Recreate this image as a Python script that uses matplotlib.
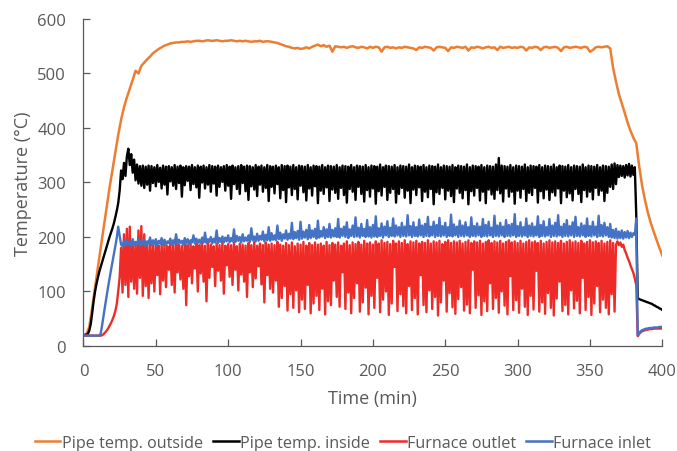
import numpy as np
import matplotlib
matplotlib.use("Agg")
import matplotlib.pyplot as plt

# ---------------- data ----------------
series_names = ["Pipe temp. outside", "Pipe temp. inside", "Furnace outlet", "Furnace inlet"]
series_colors = ["#ED7D31", "#000000", "#EE2B27", "#4472C4"]

# Pipe temp. outside, sampled every 2 min (0..400)
time_outside = np.arange(0, 401, 2)
pipe_outside = [
    20, 22, 35, 70, 108, 145, 182, 218, 254, 290,
    323, 355, 387, 415, 438, 456, 472, 488, 505, 500,
    514, 520, 526, 531, 537, 541, 545, 548, 551, 553,
    555, 556, 557, 557, 558, 558, 559, 558, 559, 560,
    560, 559, 560, 561, 560, 560, 561, 560, 559, 560,
    560, 561, 560, 559, 560, 559, 560, 559, 558, 559,
    559, 560, 558, 559, 559, 558, 557, 556, 554, 552,
    550, 549, 547, 546, 547, 545, 546, 548, 546, 549,
    551, 553, 550, 552, 549, 551, 540, 550, 549, 548,
    549, 547, 549, 550, 548, 547, 549, 548, 546, 549,
    547, 549, 548, 540, 548, 549, 547, 548, 546, 548,
    547, 549, 548, 547, 546, 543, 548, 547, 549, 548,
    547, 542, 548, 549, 548, 547, 541, 548, 547, 549,
    548, 547, 549, 542, 548, 547, 549, 548, 546, 548,
    549, 547, 548, 543, 549, 547, 548, 549, 547, 548,
    547, 549, 548, 542, 548, 547, 549, 548, 543, 548,
    549, 547, 548, 549, 547, 541, 548, 549, 547, 548,
    549, 548, 547, 549, 548, 540, 543, 548, 549, 548,
    549, 550, 546, 510, 485, 462, 445, 428, 410, 395,
    382, 372, 330, 295, 268, 245, 226, 210, 195, 180,
    166,
]

# the other three series, sampled every minute (0..400)
time_min = np.arange(0, 401, 1)

pipe_inside = [
    20, 20, 21, 22, 28, 40, 60, 82, 100, 114,
    126, 137, 146, 155, 164, 173, 182, 191, 200, 208,
    216, 225, 236, 248, 262, 285, 322, 306, 336, 312,
    348, 362, 332, 352, 318, 342, 304, 333, 298, 330,
    294, 331, 290, 329, 296, 331, 285, 330, 299, 328,
    293, 332, 301, 327, 289, 331, 296, 329, 278, 330,
    302, 328, 294, 332, 288, 329, 299, 331, 274, 328,
    295, 330, 303, 329, 286, 332, 297, 328, 291, 331,
    272, 329, 300, 331, 289, 328, 296, 332, 283, 330,
    298, 329, 276, 331, 292, 328, 301, 330, 285, 332,
    294, 329, 270, 331, 297, 328, 288, 330, 279, 332,
    299, 329, 284, 331, 268, 330, 293, 328, 287, 332,
    275, 329, 296, 331, 283, 328, 290, 332, 266, 330,
    292, 329, 280, 331, 297, 328, 271, 332, 286, 330,
    264, 331, 291, 329, 277, 332, 288, 328, 269, 331,
    294, 330, 282, 329, 267, 332, 289, 328, 276, 331,
    293, 330, 262, 329, 285, 332, 279, 328, 291, 331,
    266, 330, 287, 329, 281, 332, 270, 328, 290, 331,
    277, 330, 263, 329, 288, 332, 283, 328, 268, 331,
    292, 330, 279, 329, 265, 332, 286, 328, 274, 331,
    289, 330, 261, 329, 284, 333, 276, 328, 292, 331,
    268, 330, 281, 329, 288, 332, 263, 328, 279, 331,
    290, 330, 272, 329, 285, 333, 262, 328, 287, 331,
    277, 330, 291, 329, 266, 332, 283, 328, 273, 331,
    288, 330, 260, 329, 282, 333, 279, 328, 290, 331,
    269, 330, 285, 329, 275, 332, 264, 328, 289, 331,
    281, 330, 271, 329, 286, 333, 260, 328, 284, 331,
    276, 330, 290, 329, 267, 332, 283, 328, 262, 331,
    287, 330, 278, 329, 270, 333, 286, 345, 280, 331,
    265, 330, 289, 329, 274, 332, 283, 328, 261, 331,
    285, 330, 272, 329, 288, 333, 266, 328, 281, 331,
    277, 330, 290, 329, 263, 332, 284, 328, 271, 331,
    287, 330, 268, 329, 282, 333, 276, 328, 289, 331,
    262, 330, 285, 329, 273, 332, 280, 328, 267, 331,
    288, 330, 279, 329, 264, 333, 286, 328, 274, 331,
    283, 330, 269, 329, 290, 332, 277, 328, 285, 331,
    266, 330, 281, 329, 292, 333, 288, 335, 297, 332,
    310, 331, 312, 330, 309, 332, 313, 334, 311, 331,
    314, 328, 240, 88, 86, 85, 84, 83, 82, 81,
    80, 79, 78, 77, 75, 74, 72, 71, 69, 68,
    66,
]

furnace_outlet = [
    19, 19, 19, 19, 19, 19, 19, 19, 19, 19,
    19, 19, 19, 20, 22, 25, 28, 32, 37, 42,
    48, 55, 64, 77, 100, 126, 180, 98, 205, 112,
    215, 90, 219, 118, 192, 105, 188, 96, 212, 125,
    220, 92, 205, 110, 186, 88, 190, 115, 185, 100,
    188, 130, 184, 95, 190, 120, 186, 108, 183, 140,
    189, 112, 185, 98, 191, 135, 186, 122, 184, 105,
    188, 75, 185, 128, 190, 115, 183, 142, 187, 100,
    185, 133, 189, 118, 184, 82, 190, 125, 186, 145,
    183, 110, 188, 138, 185, 120, 191, 96, 184, 148,
    187, 127, 185, 112, 190, 140, 183, 102, 188, 131,
    186, 118, 184, 90, 189, 135, 185, 108, 191, 124,
    184, 146, 188, 113, 185, 80, 190, 130, 186, 105,
    188, 98, 185, 120, 191, 72, 186, 88, 184, 110,
    189, 65, 185, 95, 190, 70, 183, 102, 188, 62,
    186, 85, 191, 68, 184, 112, 189, 60, 185, 78,
    190, 92, 186, 66, 188, 105, 184, 58, 191, 82,
    185, 75, 189, 120, 186, 90, 190, 72, 184, 135,
    188, 68, 192, 98, 185, 60, 190, 88, 187, 115,
    191, 63, 186, 80, 193, 107, 188, 58, 190, 92,
    186, 70, 192, 125, 188, 62, 194, 85, 189, 100,
    191, 57, 187, 78, 193, 145, 188, 64, 192, 95,
    189, 73, 194, 60, 187, 110, 192, 66, 190, 88,
    193, 58, 188, 130, 191, 75, 189, 62, 194, 102,
    188, 68, 192, 90, 190, 56, 193, 80, 187, 120,
    191, 63, 194, 97, 189, 71, 192, 59, 190, 86,
    193, 108, 188, 65, 191, 76, 194, 60, 189, 140,
    192, 70, 190, 93, 193, 57, 188, 82, 191, 64,
    194, 115, 189, 68, 192, 88, 190, 61, 193, 100,
    188, 74, 191, 58, 194, 128, 190, 66, 192, 84,
    189, 61, 193, 105, 188, 72, 191, 57, 194, 92,
    190, 67, 192, 138, 189, 63, 193, 80, 188, 59,
    191, 97, 194, 70, 190, 56, 192, 87, 189, 118,
    193, 64, 188, 75, 191, 58, 194, 102, 190, 69,
    192, 83, 189, 60, 193, 125, 188, 66, 191, 90,
    194, 57, 190, 78, 192, 110, 189, 62, 193, 85,
    188, 70, 191, 58, 194, 95, 189, 63, 186, 192,
    185, 190, 182, 186, 176, 170, 162, 156, 148, 141,
    134, 124, 112, 18, 22, 25, 27, 28, 29, 30,
    30, 31, 31, 31, 32, 32, 32, 32, 32, 32,
    32,
]

furnace_inlet = [
    19, 19, 19, 19, 19, 19, 19, 19, 19, 19,
    19, 19, 24, 40, 58, 75, 92, 108, 124, 139,
    154, 168, 183, 198, 219, 203, 186, 183, 193, 184,
    195, 186, 192, 183, 196, 185, 191, 187, 197, 184,
    193, 186, 195, 183, 192, 188, 199, 185, 194, 187,
    196, 184, 193, 188, 198, 186, 195, 185, 192, 189,
    197, 186, 194, 188, 205, 187, 195, 189, 193, 186,
    198, 188, 196, 187, 194, 190, 203, 188, 197, 189,
    195, 188, 199, 190, 208, 189, 196, 191, 200, 188,
    197, 190, 212, 189, 198, 191, 201, 190, 199, 192,
    203, 190, 198, 192, 214, 191, 202, 193, 200, 190,
    205, 192, 199, 193, 203, 191, 216, 194, 201, 192,
    206, 193, 202, 195, 210, 192, 204, 194, 218, 193,
    207, 195, 203, 194, 221, 196, 208, 193, 205, 197,
    212, 195, 206, 197, 226, 196, 209, 198, 211, 195,
    228, 197, 210, 199, 213, 196, 222, 198, 212, 200,
    215, 197, 230, 199, 211, 201, 218, 198, 214, 200,
    224, 199, 213, 201, 216, 200, 233, 199, 215, 202,
    219, 200, 227, 198, 214, 202, 221, 200, 236, 201,
    217, 199, 224, 202, 215, 200, 231, 201, 218, 199,
    222, 201, 238, 200, 216, 202, 225, 199, 219, 203,
    229, 200, 217, 202, 234, 201, 221, 203, 218, 200,
    226, 202, 219, 201, 240, 203, 220, 200, 227, 202,
    218, 201, 232, 203, 221, 200, 224, 202, 237, 201,
    219, 203, 228, 200, 222, 202, 235, 201, 220, 203,
    226, 200, 218, 202, 241, 201, 223, 203, 219, 200,
    230, 202, 221, 201, 227, 203, 218, 200, 236, 202,
    220, 201, 225, 203, 219, 200, 233, 202, 222, 201,
    228, 203, 217, 200, 239, 202, 221, 201, 226, 203,
    219, 200, 231, 202, 222, 201, 224, 203, 242, 200,
    220, 202, 227, 201, 218, 203, 234, 200, 221, 202,
    225, 201, 219, 203, 238, 200, 222, 202, 229, 201,
    218, 203, 233, 200, 221, 202, 226, 201, 240, 203,
    219, 200, 224, 202, 231, 201, 220, 203, 227, 200,
    237, 202, 218, 201, 225, 203, 221, 200, 234, 202,
    220, 201, 228, 203, 219, 200, 239, 202, 222, 201,
    226, 203, 218, 200, 224, 199, 213, 198, 215, 197,
    210, 198, 212, 197, 209, 199, 211, 198, 208, 200,
    207, 204, 234, 20, 24, 27, 29, 30, 31, 32,
    32, 33, 33, 33, 34, 34, 34, 34, 35, 35,
    35,
]

x_ticks = [0, 50, 100, 150, 200, 250, 300, 350, 400]
y_ticks = [0, 100, 200, 300, 400, 500, 600]

# ---------------- plot ----------------
plt.rcParams['font.family'] = ['Open Sans', 'DejaVu Sans']
text_color = "#595959"

fig = plt.figure(figsize=(6.77, 4.52), dpi=100)
ax = fig.add_axes([0.1233, 0.2323, 0.855, 0.7235])

ax.plot(time_outside, pipe_outside, color=series_colors[0], lw=1.8, label=series_names[0])
ax.plot(time_min, pipe_inside, color=series_colors[1], lw=1.7, label=series_names[1])
ax.plot(time_min, furnace_outlet, color=series_colors[2], lw=1.7, label=series_names[2])
ax.plot(time_min, furnace_inlet, color=series_colors[3], lw=1.7, label=series_names[3])

ax.set_xlim(0, 400)
ax.set_ylim(0, 600)
ax.set_xticks(x_ticks)
ax.set_yticks(y_ticks)
for s in ["top", "right"]:
    ax.spines[s].set_visible(False)
for s in ["left", "bottom"]:
    ax.spines[s].set_color("#595959")
    ax.spines[s].set_linewidth(0.9)
ax.tick_params(axis="both", direction="in", length=5, width=0.9, color="#595959",
               labelsize=12, labelcolor=text_color, pad=12.5)
ax.set_xlabel("Time (min)", fontsize=13, color=text_color, labelpad=7)
ax.set_ylabel("Temperature (°C)", fontsize=13, color=text_color, labelpad=4)

handles, labels = ax.get_legend_handles_labels()
leg = fig.legend(handles, labels, loc="center", bbox_to_anchor=(0.5066, 0.018), ncol=4,
                 frameon=False, fontsize=11.6, handlelength=1.6, handletextpad=0.1,
                 columnspacing=0.6)
for t in leg.get_texts():
    t.set_color(text_color)
for h in leg.legend_handles:
    h.set_linewidth(1.8)

fig.savefig("out.png", dpi=100)
